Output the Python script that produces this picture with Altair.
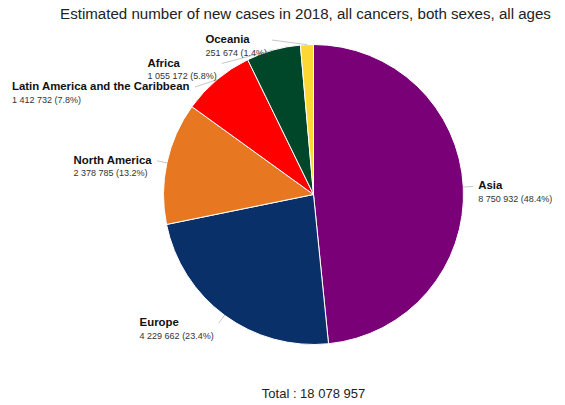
import math
import altair as alt
import pandas as pd

# ---------------- data ----------------
regions = ["Asia", "Europe", "North America", "Latin America and the Caribbean", "Africa", "Oceania"]
cases = [8750932, 4229662, 2378785, 1412732, 1055172, 251674]
percents = ["48.4%", "23.4%", "13.2%", "7.8%", "5.8%", "1.4%"]
colors = ["#7a0077", "#0a306a", "#e87722", "#ff0000", "#004628", "#fdd835"]
title_text = "Estimated number of new cases in 2018, all cancers, both sexes, all ages"

# ---------------- layout ----------------
W, H = 565, 405
TOP = 30                       # room for the title
CX, CY = 313.5, 194.5          # pie centre (page px)
R = 150                        # pie radius
RL = 160                       # label radius
PAD = 5
SPACING = 23.5
MIN_Y = 40
NAME_SIZE = 11.4
VALUE_SIZE = 9
FONT = "Liberation Sans"

BOLD = {" ": 278, "A": 722, "C": 722, "E": 667, "L": 611, "N": 722, "O": 778, "a": 556,
        "b": 611, "c": 556, "d": 611, "e": 556, "f": 333, "h": 611, "i": 278, "m": 889,
        "n": 611, "o": 611, "p": 611, "r": 389, "t": 333, "u": 611, "s": 556}
REG = {" ": 278, "(": 333, ")": 333, ".": 278, "%": 889}


def text_w(s, table, size):
    return sum(table.get(ch, 556) for ch in s) / 1000 * size


def fmt(n):
    return f"{n:,}".replace(",", " ")


total = sum(cases)
value_labels = [f"{fmt(v)} ({p})" for v, p in zip(cases, percents)]

# mid-angles of slices (clockwise from 12 o'clock)
mids = []
cum = 0
for v in cases:
    mids.append((cum + v / 2) / total * 2 * math.pi)
    cum += v

# natural label y positions, then spread left-side labels apart from the top
ys = [CY - RL * math.cos(a) for a in mids]
left = [i for i, a in enumerate(mids) if a > math.pi]
prev = None
for i in sorted(left, key=lambda i: ys[i]):
    y = max(ys[i], MIN_Y)
    if prev is not None:
        y = max(y, prev + SPACING)
    ys[i] = y
    prev = y

rows = []
for i, a in enumerate(mids):
    dy = ys[i] - CY
    dx = math.sqrt(max(RL ** 2 - dy ** 2, 0))
    ex, ey = CX + R * math.sin(a), CY - R * math.cos(a)
    if a <= math.pi:
        ax = CX + dx
        tx = ax + PAD
    else:
        ax = CX - dx
        bw = max(text_w(regions[i], BOLD, NAME_SIZE), text_w(value_labels[i], REG, VALUE_SIZE))
        tx = ax - PAD - bw
    rows.append(dict(region=regions[i], value=value_labels[i], tx=tx, ny=ys[i],
                     vy=ys[i] + 12.5, ex=ex, ey=ey, ax=ax, ay=ys[i]))
labels = pd.DataFrame(rows)

pie_df = pd.DataFrame({"region": regions, "cases": cases, "idx": list(range(len(regions)))})

xs = alt.Scale(domain=[0, W], nice=False, zero=False)
yscl = alt.Scale(domain=[TOP, H], nice=False, zero=False, reverse=True)
color_scale = alt.Scale(domain=regions, range=colors)

pie = alt.Chart(pie_df).mark_arc(outerRadius=R, stroke="white", strokeWidth=1).encode(
    theta=alt.Theta("cases:Q", stack=True),
    color=alt.Color("region:N", scale=color_scale, legend=None),
    order=alt.Order("idx:Q"),
    x=alt.datum(CX, scale=xs, axis=None),
    y=alt.datum(CY, scale=yscl, axis=None),
)

connectors = alt.Chart(labels).mark_rule(color="#c8c8c8", strokeWidth=1).encode(
    x=alt.X("ex:Q", scale=xs, axis=None),
    y=alt.Y("ey:Q", scale=yscl, axis=None),
    x2="ax:Q",
    y2="ay:Q",
)

names = alt.Chart(labels).mark_text(
    align="left", baseline="middle", font=FONT, fontSize=NAME_SIZE, fontWeight="bold", color="#111"
).encode(
    x=alt.X("tx:Q", scale=xs, axis=None),
    y=alt.Y("ny:Q", scale=yscl, axis=None),
    text="region:N",
)

values = alt.Chart(labels).mark_text(
    align="left", baseline="middle", font=FONT, fontSize=VALUE_SIZE, color="#333"
).encode(
    x=alt.X("tx:Q", scale=xs, axis=None),
    y=alt.Y("vy:Q", scale=yscl, axis=None),
    text="value:N",
)

total_df = pd.DataFrame({"t": [f"Total : {fmt(total)}"]})
total_text = alt.Chart(total_df).mark_text(
    align="center", baseline="alphabetic", font=FONT, fontSize=13, color="#222"
).encode(
    x=alt.datum(CX, scale=xs, axis=None),
    y=alt.datum(398, scale=yscl, axis=None),
    text="t:N",
)

chart = alt.layer(pie, connectors, names, values, total_text).properties(
    width=W,
    height=H - TOP,
    padding={"left": 0, "right": 0, "top": TOP, "bottom": 0},
    autosize=alt.AutoSizeParams(type="none"),
    background="white",
    title=alt.Title(title_text, font=FONT, fontSize=15.1, fontWeight="normal", color="#222",
                    anchor="middle", dx=23, offset=8),
).configure_view(stroke=None)

chart.save("out.html", embed_options={"renderer": "svg", "actions": False})
